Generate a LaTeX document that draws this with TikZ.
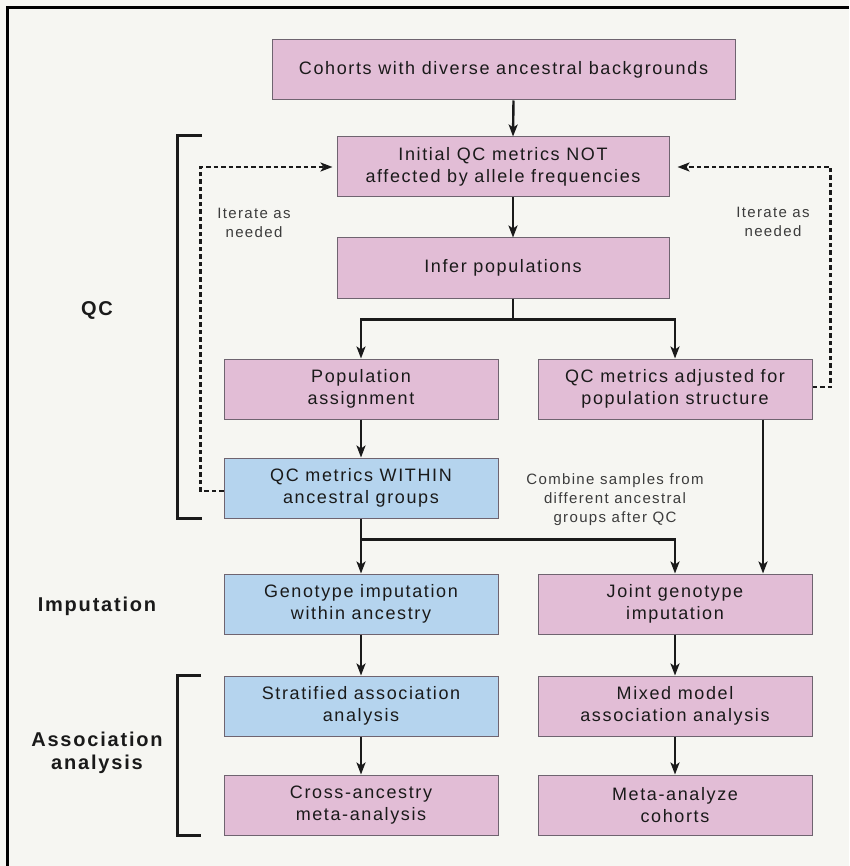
\documentclass[tikz,border=0pt]{standalone}
\usepackage{fontspec}
\setmainfont{Liberation Sans}[LetterSpace=9]
\usetikzlibrary{arrows.meta}

\definecolor{paper}{HTML}{F6F6F2}
\definecolor{pinkbox}{HTML}{E2BDD6}
\definecolor{bluebox}{HTML}{B5D4EE}
\definecolor{boxedge}{HTML}{6F6470}
\definecolor{ink}{HTML}{1A1A1A}

\tikzset{
  stage/.style={draw=boxedge, line width=1pt, fill=pinkbox, minimum width=274pt,
    minimum height=60pt, inner sep=0pt, align=center, text=ink,
    font=\fontsize{18}{22}\selectfont},
  withinstage/.style={stage, fill=bluebox},
  flow/.style={line width=2.4pt, draw=ink, -{Stealth[length=12pt,width=9pt,inset=3pt]}},
  iterate/.style={flow, line width=2.2pt, dash pattern=on 4.5pt off 3pt},
  bracket/.style={line width=3pt, draw=ink},
  note/.style={text=ink!85, align=center, font=\fontsize{15}{19}\selectfont},
  phase/.style={text=ink, align=center, font=\fontsize{20}{23}\selectfont\bfseries}
}

\begin{document}
\begin{tikzpicture}[x=1pt,y=-1pt]
  \fill[paper] (0,0) rectangle (849,866);
  \useasboundingbox (0,0) rectangle (849,866);
  \draw[line width=3pt] (7.5,866) -- (7.5,8) -- (849,8);

  % stages
  \node[stage, minimum width=463pt] (cohorts) at (503.5,70) {Cohorts with diverse ancestral backgrounds};
  \node[stage, minimum width=332pt] (initqc) at (503,167) {Initial QC metrics NOT\\affected by allele frequencies};
  \node[stage, minimum width=332pt] (infer) at (503,268) {Infer populations};
  \node[stage] (popassign) at (361,389) {Population\\assignment};
  \node[stage] (qcadjust) at (675,389) {QC metrics adjusted for\\population structure};
  \node[withinstage] (qcwithin) at (361,488) {QC metrics WITHIN\\ancestral groups};
  \node[withinstage] (impwithin) at (361,604) {Genotype imputation\\within ancestry};
  \node[stage] (impjoint) at (675,604) {Joint genotype\\imputation};
  \node[withinstage] (stratassoc) at (361,706) {Stratified association\\analysis};
  \node[stage] (mixedassoc) at (675,706) {Mixed model\\association analysis};
  \node[stage] (crossmeta) at (361,805) {Cross-ancestry\\meta-analysis};
  \node[stage] (metacohorts) at (675,805) {Meta-analyze\\cohorts};

  % phases
  \node[phase] (qclabel) at (97,310) {QC};
  \node[phase] (implabel) at (97,606) {Imputation};
  \node[phase] (assoclabel) at (97,753) {Association\\analysis};
  \draw[bracket] (202,136) -- (177,136) -- (177,518) -- (202,518);
  \draw[bracket] (201,675) -- (177,675) -- (177,835) -- (201,835);

  % notes
  \node[note] (iterleft) at (254,223) {Iterate as\\needed};
  \node[note] (iterright) at (773,222) {Iterate as\\needed};
  \node[note] (combine) at (615,500) {Combine samples from\\different ancestral\\groups after QC};

  % flow
  \draw[flow] ([xshift=10pt]cohorts.south) -- ([xshift=10pt]initqc.north);
  \draw[flow] ([xshift=10pt]initqc.south) -- ([xshift=10pt]infer.north);
  \coordinate (split) at ([xshift=10pt,yshift=-21pt]infer.south);
  \draw[line width=2.4pt, ink] ([xshift=10pt]infer.south) -- (split);
  \draw[flow] (split) -| (popassign.north);
  \draw[flow] (split) -| (qcadjust.north);
  \draw[flow] (popassign) -- (qcwithin);
  \coordinate (merge) at ([yshift=-21pt]qcwithin.south);
  \draw[line width=2.4pt, ink] (qcwithin.south) -- (merge);
  \draw[flow] (merge) -| (impwithin.north);
  \draw[flow] (merge) -| (impjoint.north);
  \draw[flow] ([xshift=88pt]qcadjust.south) -- ([xshift=88pt]impjoint.north);
  \draw[flow] (impwithin) -- (stratassoc);
  \draw[flow] (impjoint) -- (mixedassoc);
  \draw[flow] (stratassoc) -- (crossmeta);
  \draw[flow] (mixedassoc) -- (metacohorts);

  % iterate loops
  \draw[iterate] ([yshift=-3pt]qcwithin.west) -- ++(-23,0) |- ([xshift=-4pt]initqc.west);
  \draw[iterate] ([yshift=2pt]qcadjust.east) -- ++(18,0) |- ([xshift=8pt]initqc.east);
\end{tikzpicture}
\end{document}
